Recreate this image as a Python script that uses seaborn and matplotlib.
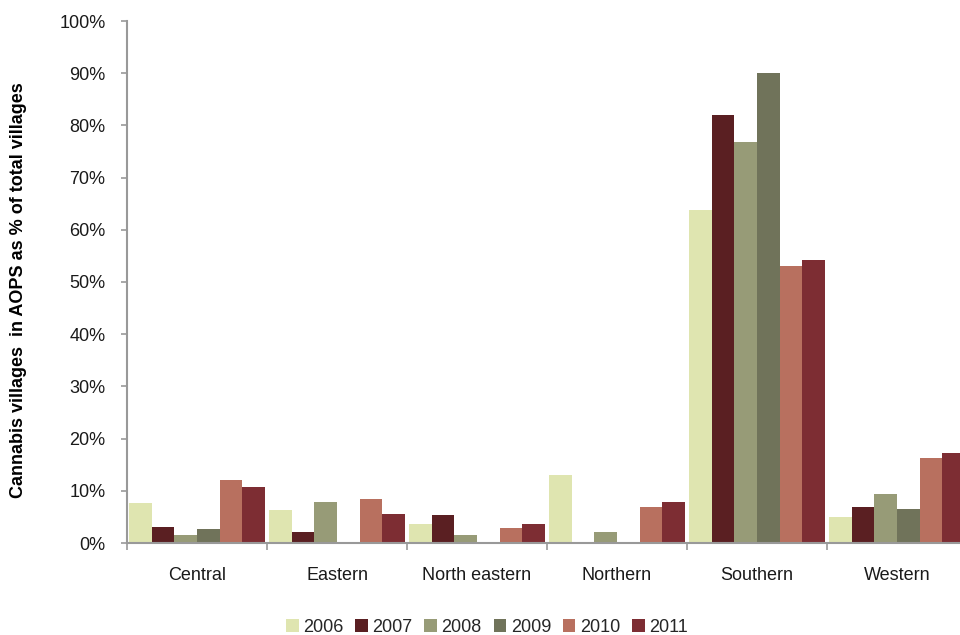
import matplotlib
matplotlib.use("Agg")
import matplotlib.pyplot as plt
from matplotlib.ticker import FixedLocator, PercentFormatter
import seaborn as sns
import pandas as pd

regions = ["Central", "Eastern", "North eastern", "Northern", "Southern", "Western"]
years = ["2006", "2007", "2008", "2009", "2010", "2011"]

# share of villages with cannabis in AOPS (%), one list per year, in region order
v2006 = [7.6, 6.3, 3.7, 13.0, 63.7, 5.0]
v2007 = [3.0, 2.1, 5.3, 0.0, 81.9, 6.9]
v2008 = [1.5, 7.9, 1.5, 2.1, 76.8, 9.4]
v2009 = [2.7, 0.0, 0.0, 0.0, 90.0, 6.6]
v2010 = [12.0, 8.5, 2.8, 6.9, 53.1, 16.3]
v2011 = [10.7, 5.6, 3.7, 7.9, 54.3, 17.2]

colors = ["#DFE5B0", "#5A1F22", "#979B77", "#70735A", "#B8705F", "#7D2D33"]

series = [v2006, v2007, v2008, v2009, v2010, v2011]
df = pd.DataFrame(
    [(r, y, v) for y, vals in zip(years, series) for r, v in zip(regions, vals)],
    columns=["region", "year", "value"],
)

sns.set_theme(style="white")
plt.rcParams["font.family"] = ["Liberation Sans", "DejaVu Sans"]

fig = plt.figure(figsize=(9.6, 6.35), dpi=100)
ax = fig.add_axes([127 / 960, 1 - 543 / 635, 840 / 960, 522 / 635])

sns.barplot(
    data=df, x="region", y="value", hue="year", order=regions, hue_order=years,
    palette=colors, width=0.965, gap=0, saturation=1, linewidth=0,
    errorbar=None, ax=ax, legend=True,
)

ax.set_xlim(-0.5, 5.5)
ax.set_ylim(0, 100)
ax.yaxis.set_major_locator(FixedLocator(range(0, 101, 10)))
ax.yaxis.set_major_formatter(PercentFormatter(decimals=0))

spine_col = "#999999"
for side in ["top", "right"]:
    ax.spines[side].set_visible(False)
for side in ["left", "bottom"]:
    ax.spines[side].set_color(spine_col)
    ax.spines[side].set_linewidth(1.5)

fs = 13
ax.tick_params(axis="y", which="major", left=True, length=4.5, width=1.2,
               color=spine_col, labelsize=fs, labelcolor="#1a1a1a", pad=11)
ax.tick_params(axis="x", which="major", bottom=False, length=0,
               labelsize=fs, labelcolor="#1a1a1a", pad=17)
ax.xaxis.set_minor_locator(FixedLocator([i - 0.5 for i in range(len(regions) + 1)]))
ax.tick_params(axis="x", which="minor", bottom=True, length=5, width=1.2,
               color=spine_col)

ax.set_xlabel("")
ax.set_ylabel("Cannabis villages  in AOPS as % of total villages",
              fontsize=13, fontweight="bold", color="#000000")
ax.yaxis.set_label_coords(-100 / 840, (543 - 290) / 522)

ax.legend(
    loc="center", bbox_to_anchor=(487 / 960, 1 - 627 / 635),
    bbox_transform=fig.transFigure, ncol=6, frameon=False,
    fontsize=fs, handlelength=0.7, handleheight=0.7,
    handletextpad=0.25, columnspacing=0.65, borderaxespad=0,
)

fig.savefig("out.png", dpi=100)
